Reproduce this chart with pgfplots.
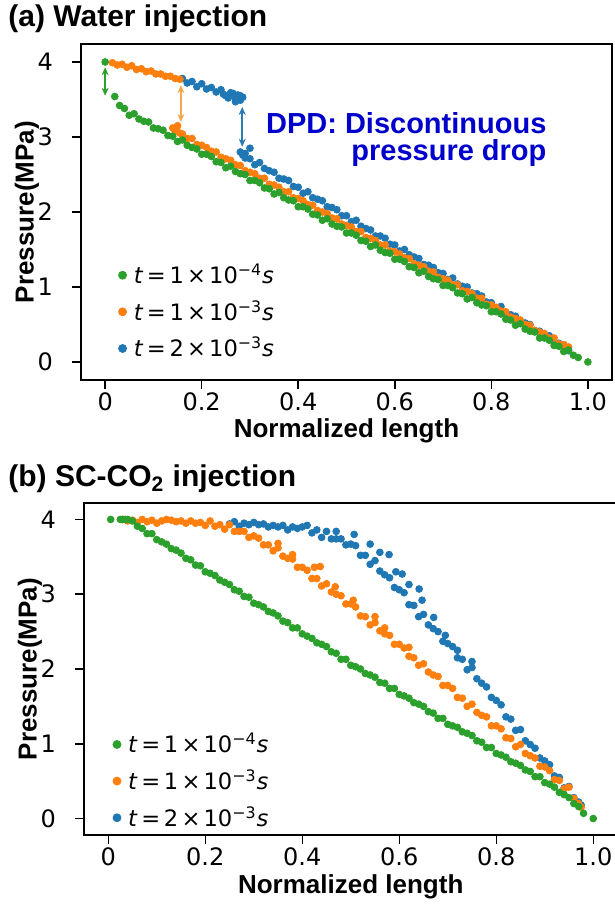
\documentclass[border=0pt]{standalone}
\usepackage{fontspec}
\setmainfont{DejaVu Sans}
\newfontfamily\arialfont{Liberation Sans}
\usepackage{pgfplots}
\pgfplotsset{compat=1.18}
\usetikzlibrary{arrows.meta}
\definecolor{cgreen}{HTML}{2CA02C}
\definecolor{corange}{HTML}{FF7F0E}
\definecolor{cblue}{HTML}{1F77B4}
\definecolor{dpd}{RGB}{0,0,205}
\definecolor{arrorange}{HTML}{F2A94E}
\definecolor{arrblue}{HTML}{2C7BB6}
\pgfplotsset{
 myaxis/.style={
  scale only axis,
  xmin=-0.05, xmax=1.05,
  xtick={0,0.2,0.4,0.6,0.8,1.0},
  xticklabels={0,0.2,0.4,0.6,0.8,1.0},
  ytick={0,1,2,3,4},
  tick align=outside, major tick length=4.5pt,
  tick style={line width=0.75pt, black},
  axis line style={line width=1pt},
  tick pos=left,
  ticklabel style={font=\fontsize{12}{14}\selectfont},
  yticklabel style={xshift=-6pt},
  xticklabel style={yshift=1.5pt},
  /pgf/number format/assume math mode=true,
  label style={font=\arialfont\bfseries\fontsize{13}{15}\selectfont},
  xlabel={Normalized length}, ylabel={Pressure(MPa)},
  reverse legend,
  legend cell align=left,
  legend image code/.code={\draw[mark=*,##1,mark size=2pt] plot coordinates {(0.1cm,0cm)}; \path (0.22cm,0cm);},
  legend style={draw=none, fill=none, inner sep=0pt, row sep=3pt,
    font=\fontsize{11.3}{13.5}\selectfont},
 },
 sc/.style={only marks, mark=*, mark size=1.7pt, color=#1, mark options={fill=#1, draw=#1}},
}
\newcommand{\tlab}[2]{\textit{t}\hspace{0.16em}=\hspace{0.16em}#1\hspace{0.14em}×\hspace{0.14em}10\textsuperscript{−#2}\textit{s}}
\begin{document}
\begin{tikzpicture}
\node[anchor=base west, inner sep=0pt, font=\arialfont\bfseries\fontsize{15}{17}\selectfont] at (4pt,444pt) {(a) Water injection};
\node[anchor=base west, inner sep=0pt, font=\arialfont\bfseries\fontsize{15}{17}\selectfont] at (4pt,214pt) {(b) SC-CO\textsubscript{2} injection};
\begin{axis}[myaxis, at={(40.5pt,267.5pt)}, anchor=south west, width=265.5pt, height=168pt,
  ymin=-0.24, ymax=4.24,
  xlabel style={at={(axis description cs:0.5,0)}, anchor=base, yshift=-29pt},
  ylabel style={at={(axis description cs:-0.089,0.5)}, anchor=base},
  legend style={at={(axis cs:0.027,-0.03)}, anchor=south west}]
\addplot[sc=cblue] coordinates {
(0.16,3.78)(0.17,3.72)(0.18,3.74)(0.19,3.67)(0.20,3.71)(0.21,3.64)(0.22,3.66)(0.23,3.60)(0.24,3.63)(0.25,3.55)
(0.26,3.59)(0.27,3.51)(0.275,3.56)(0.28,3.49)(0.285,3.53)(0.265,3.58)(0.27,3.47)(0.28,3.55)(0.255,3.52)(0.245,3.57)
(0.28,2.80)(0.29,2.72)(0.30,2.71)(0.31,2.63)(0.32,2.66)(0.33,2.58)(0.34,2.55)(0.35,2.53)(0.36,2.45)(0.37,2.44)
(0.38,2.42)(0.39,2.34)(0.40,2.33)(0.41,2.25)(0.42,2.27)(0.43,2.19)(0.44,2.17)(0.45,2.15)(0.46,2.07)(0.47,2.06)
(0.48,2.03)(0.49,1.95)(0.50,1.95)(0.51,1.87)(0.52,1.89)(0.53,1.81)(0.54,1.78)(0.55,1.76)(0.56,1.68)(0.57,1.68)
(0.58,1.65)(0.59,1.57)(0.60,1.56)(0.61,1.48)(0.62,1.50)(0.63,1.43)(0.64,1.40)(0.65,1.38)(0.66,1.30)(0.67,1.29)
(0.68,1.26)(0.69,1.19)(0.70,1.18)(0.71,1.10)(0.72,1.12)(0.73,1.04)(0.74,1.01)(0.75,1.00)(0.76,0.92)(0.77,0.91)
(0.78,0.88)(0.79,0.80)(0.80,0.79)(0.81,0.71)(0.82,0.74)(0.83,0.66)(0.84,0.63)(0.85,0.61)(0.86,0.53)(0.87,0.52)
(0.88,0.50)(0.89,0.42)(0.90,0.41)(0.91,0.33)(0.92,0.35)(0.93,0.27)(0.94,0.25)(0.95,0.23)(0.96,0.15)
(0.30,2.85)(0.285,2.76)(0.29,2.78)
};
\addlegendentry{\tlab{2}{3}}
\addplot[sc=corange] coordinates {
(0.015,3.99)(0.025,3.96)(0.035,3.97)(0.045,3.93)(0.055,3.95)(0.065,3.90)(0.075,3.91)(0.085,3.87)(0.095,3.88)(0.105,3.84)
(0.115,3.84)(0.125,3.81)(0.135,3.81)(0.145,3.78)(0.155,3.77)
(0.14,3.12)(0.145,3.07)(0.15,3.15)(0.155,3.05)(0.148,3.10)
(0.16,3.04)(0.17,2.98)(0.18,2.98)(0.19,2.90)(0.20,2.89)(0.21,2.86)(0.22,2.81)(0.23,2.80)(0.24,2.73)(0.25,2.71)
(0.26,2.69)(0.27,2.63)(0.28,2.62)(0.29,2.55)(0.30,2.53)(0.31,2.51)(0.32,2.45)(0.33,2.45)(0.34,2.37)(0.35,2.36)
(0.36,2.33)(0.37,2.27)(0.38,2.27)(0.39,2.19)(0.40,2.18)(0.41,2.15)(0.42,2.10)(0.43,2.09)(0.44,2.02)(0.45,2.00)
(0.46,1.98)(0.47,1.92)(0.48,1.91)(0.49,1.84)(0.50,1.82)(0.51,1.80)(0.52,1.74)(0.53,1.74)(0.54,1.66)(0.55,1.65)
(0.56,1.62)(0.57,1.56)(0.58,1.56)(0.59,1.48)(0.60,1.47)(0.61,1.44)(0.62,1.39)(0.63,1.38)(0.64,1.31)(0.65,1.29)
(0.66,1.27)(0.67,1.21)(0.68,1.20)(0.69,1.13)(0.70,1.11)(0.71,1.09)(0.72,1.03)(0.73,1.03)(0.74,0.95)(0.75,0.94)
(0.76,0.91)(0.77,0.85)(0.78,0.85)(0.79,0.77)(0.80,0.76)(0.81,0.73)(0.82,0.68)(0.83,0.67)(0.84,0.60)(0.85,0.58)
(0.86,0.56)(0.87,0.50)(0.88,0.49)(0.89,0.42)(0.90,0.40)(0.91,0.38)(0.92,0.32)(0.93,0.32)(0.94,0.24)(0.95,0.23)(0.96,0.20)
};
\addlegendentry{\tlab{1}{3}}
\addplot[sc=cgreen] coordinates {
(0,4.00)
(0.02,3.54)(0.03,3.42)(0.04,3.38)(0.05,3.29)(0.06,3.31)(0.07,3.24)(0.08,3.21)(0.09,3.20)(0.10,3.12)(0.11,3.11)
(0.12,3.09)(0.13,3.02)(0.14,3.01)(0.15,2.94)(0.16,2.96)(0.17,2.89)(0.18,2.86)(0.19,2.84)(0.20,2.77)(0.21,2.77)
(0.22,2.74)(0.23,2.67)(0.24,2.66)(0.25,2.59)(0.26,2.61)(0.27,2.54)(0.28,2.51)(0.29,2.50)(0.30,2.42)(0.31,2.42)
(0.32,2.39)(0.33,2.32)(0.34,2.31)(0.35,2.24)(0.36,2.26)(0.37,2.19)(0.38,2.16)(0.39,2.15)(0.40,2.07)(0.41,2.07)
(0.42,2.04)(0.43,1.97)(0.44,1.96)(0.45,1.89)(0.46,1.91)(0.47,1.84)(0.48,1.81)(0.49,1.80)(0.50,1.72)(0.51,1.72)
(0.52,1.69)(0.53,1.62)(0.54,1.61)(0.55,1.54)(0.56,1.56)(0.57,1.49)(0.58,1.46)(0.59,1.45)(0.60,1.37)(0.61,1.37)
(0.62,1.34)(0.63,1.27)(0.64,1.26)(0.65,1.19)(0.66,1.21)(0.67,1.14)(0.68,1.11)(0.69,1.10)(0.70,1.02)(0.71,1.02)
(0.72,0.99)(0.73,0.92)(0.74,0.91)(0.75,0.84)(0.76,0.86)(0.77,0.79)(0.78,0.76)(0.79,0.75)(0.80,0.67)(0.81,0.67)
(0.82,0.64)(0.83,0.57)(0.84,0.56)(0.85,0.49)(0.86,0.51)(0.87,0.44)(0.88,0.41)(0.89,0.40)(0.90,0.32)(0.91,0.32)
(0.92,0.29)(0.93,0.22)(0.94,0.21)(0.95,0.14)(0.96,0.16)(0.97,0.09)(0.98,0.06)
(1.00,0.00)
};
\addlegendentry{\tlab{1}{4}}
\draw[cgreen, line width=0.8pt, {Stealth[length=4pt,width=3.5pt]}-{Stealth[length=4pt,width=3.5pt]}] (axis cs:0,3.93) -- (axis cs:0,3.55);
\draw[arrorange, line width=0.8pt, {Stealth[length=4pt,width=3.5pt]}-{Stealth[length=4pt,width=3.5pt]}] (axis cs:0.157,3.69) -- (axis cs:0.157,3.20);
\draw[arrblue, line width=0.8pt, {Stealth[length=4pt,width=3.5pt]}-{Stealth[length=4pt,width=3.5pt]}] (axis cs:0.284,3.40) -- (axis cs:0.284,2.87);
\node[anchor=north east, inner sep=0pt, align=right, text=dpd, font=\arialfont\bfseries\fontsize{14.5}{17}\selectfont] at (axis cs:0.915,3.33) {DPD: Discontinuous\\[-3.5pt]pressure drop};
\end{axis}
\begin{axis}[myaxis, at={(42pt,40pt)}, anchor=south west, width=266.75pt, height=166pt,
  ymin=-0.22, ymax=4.22,
  xlabel style={at={(axis description cs:0.5,0)}, anchor=base, yshift=-29.5pt},
  ylabel style={at={(axis description cs:-0.089,0.5)}, anchor=base},
  legend style={at={(axis cs:0.009,-0.2)}, anchor=south west}]
\addplot[sc=cblue] coordinates {
(0.25,3.94)(0.26,3.97)(0.27,3.91)(0.28,3.95)(0.29,3.93)
(0.30,3.96)(0.31,3.93)(0.32,3.94)(0.33,3.90)(0.34,3.92)(0.35,3.90)(0.36,3.92)(0.37,3.86)(0.38,3.90)(0.39,3.88)
(0.40,3.90)(0.41,3.92)(0.42,3.82)(0.43,3.86)(0.44,3.76)(0.45,3.84)(0.46,3.74)(0.47,3.74)(0.48,3.74)(0.49,3.66)
(0.50,3.67)(0.51,3.65)(0.52,3.52)(0.53,3.52)(0.54,3.40)(0.55,3.45)(0.56,3.31)(0.57,3.26)(0.58,3.22)(0.59,3.09)
(0.60,3.06)(0.61,3.02)(0.62,2.86)(0.63,2.85)(0.64,2.70)(0.65,2.73)(0.66,2.59)(0.67,2.54)(0.68,2.50)(0.69,2.37)
(0.70,2.34)(0.71,2.30)(0.72,2.15)(0.73,2.13)(0.74,1.99)(0.75,2.02)(0.76,1.87)(0.77,1.81)(0.78,1.76)(0.79,1.62)
(0.80,1.58)(0.81,1.52)(0.82,1.36)(0.83,1.33)(0.84,1.18)(0.85,1.19)(0.86,1.04)(0.87,0.99)(0.88,0.94)(0.89,0.81)
(0.90,0.77)(0.91,0.72)(0.92,0.57)(0.93,0.55)(0.94,0.41)(0.95,0.43)(0.96,0.28)(0.97,0.22)(0.975,0.18)
(0.507,3.80)(0.54,3.67)(0.579,3.53)(0.593,3.30)(0.606,3.27)(0.62,3.13)(0.641,3.07)(0.647,2.92)(0.671,2.69)(0.695,2.45)
(0.47,3.84)(0.56,3.56)(0.72,2.25)(0.75,2.10)
};
\addlegendentry{\tlab{2}{3}}
\addplot[sc=corange] coordinates {
(0.03,4.00)(0.04,3.98)(0.05,3.99)(0.06,3.96)(0.07,4.00)(0.08,3.97)(0.09,3.99)(0.10,3.95)(0.11,3.98)(0.12,4.00)
(0.13,3.99)(0.14,3.97)(0.15,3.98)(0.16,3.95)(0.17,3.98)(0.18,3.95)(0.19,3.96)(0.20,3.92)
(0.21,3.98)(0.22,3.91)(0.23,3.93)(0.24,3.87)(0.25,3.93)(0.26,3.84)(0.27,3.84)(0.28,3.84)(0.29,3.76)(0.30,3.78)
(0.31,3.75)(0.32,3.66)(0.33,3.66)(0.34,3.58)(0.35,3.62)(0.36,3.51)(0.37,3.48)(0.38,3.47)(0.39,3.36)(0.40,3.36)
(0.41,3.32)(0.42,3.21)(0.43,3.21)(0.44,3.11)(0.45,3.14)(0.46,3.03)(0.47,3.00)(0.48,2.98)(0.49,2.87)(0.50,2.87)
(0.51,2.83)(0.52,2.71)(0.53,2.70)(0.54,2.59)(0.55,2.62)(0.56,2.51)(0.57,2.47)(0.58,2.45)(0.59,2.33)(0.60,2.33)
(0.61,2.28)(0.62,2.17)(0.63,2.15)(0.64,2.05)(0.65,2.07)(0.66,1.96)(0.67,1.92)(0.68,1.90)(0.69,1.78)(0.70,1.78)
(0.71,1.74)(0.72,1.62)(0.73,1.61)(0.74,1.50)(0.75,1.53)(0.76,1.42)(0.77,1.38)(0.78,1.36)(0.79,1.24)(0.80,1.24)
(0.81,1.20)(0.82,1.08)(0.83,1.07)(0.84,0.96)(0.85,0.99)(0.86,0.87)(0.87,0.84)(0.88,0.81)(0.89,0.70)(0.90,0.69)
(0.91,0.64)(0.92,0.52)(0.93,0.51)(0.94,0.40)(0.95,0.42)(0.96,0.27)(0.97,0.20)(0.975,0.15)
(0.425,3.36)(0.437,3.37)(0.468,3.10)(0.505,2.92)(0.57,2.55)(0.62,2.29)(0.55,2.70)(0.35,3.68)(0.38,3.53)
};
\addlegendentry{\tlab{1}{3}}
\addplot[sc=cgreen] coordinates {
(0.005,4.00)(0.025,4.00)(0.03,4.00)(0.035,4.00)(0.04,4.00)
(0.05,3.98)(0.06,3.91)(0.07,3.88)(0.08,3.81)(0.09,3.81)(0.10,3.73)(0.11,3.70)(0.12,3.67)(0.13,3.61)(0.14,3.59)
(0.15,3.55)(0.16,3.48)(0.17,3.46)(0.18,3.39)(0.19,3.38)(0.20,3.30)(0.21,3.28)(0.22,3.25)(0.23,3.19)(0.24,3.16)
(0.25,3.13)(0.26,3.06)(0.27,3.04)(0.28,2.97)(0.29,2.96)(0.30,2.88)(0.31,2.86)(0.32,2.83)(0.33,2.77)(0.34,2.75)
(0.35,2.71)(0.36,2.64)(0.37,2.62)(0.38,2.55)(0.39,2.55)(0.40,2.47)(0.41,2.44)(0.42,2.41)(0.43,2.35)(0.44,2.33)
(0.45,2.30)(0.46,2.23)(0.47,2.21)(0.48,2.13)(0.49,2.13)(0.50,2.05)(0.51,2.03)(0.52,2.00)(0.53,1.94)(0.54,1.92)
(0.55,1.89)(0.56,1.82)(0.57,1.81)(0.58,1.74)(0.59,1.74)(0.60,1.66)(0.61,1.64)(0.62,1.61)(0.63,1.55)(0.64,1.53)
(0.65,1.50)(0.66,1.43)(0.67,1.41)(0.68,1.34)(0.69,1.34)(0.70,1.26)(0.71,1.24)(0.72,1.22)(0.73,1.16)(0.74,1.14)
(0.75,1.11)(0.76,1.04)(0.77,1.02)(0.78,0.95)(0.79,0.95)(0.80,0.87)(0.81,0.85)(0.82,0.82)(0.83,0.76)(0.84,0.74)
(0.85,0.71)(0.86,0.65)(0.87,0.63)(0.88,0.56)(0.89,0.56)(0.90,0.48)(0.91,0.46)(0.92,0.42)(0.93,0.35)(0.94,0.32)
(0.95,0.28)(0.96,0.20)(0.97,0.16)(0.98,0.07)
(1.00,0.00)
};
\addlegendentry{\tlab{1}{4}}
\end{axis}
\pgfresetboundingbox
\path[use as bounding box] (0,0) rectangle (307.5pt,457.5pt);
\end{tikzpicture}
\end{document}
